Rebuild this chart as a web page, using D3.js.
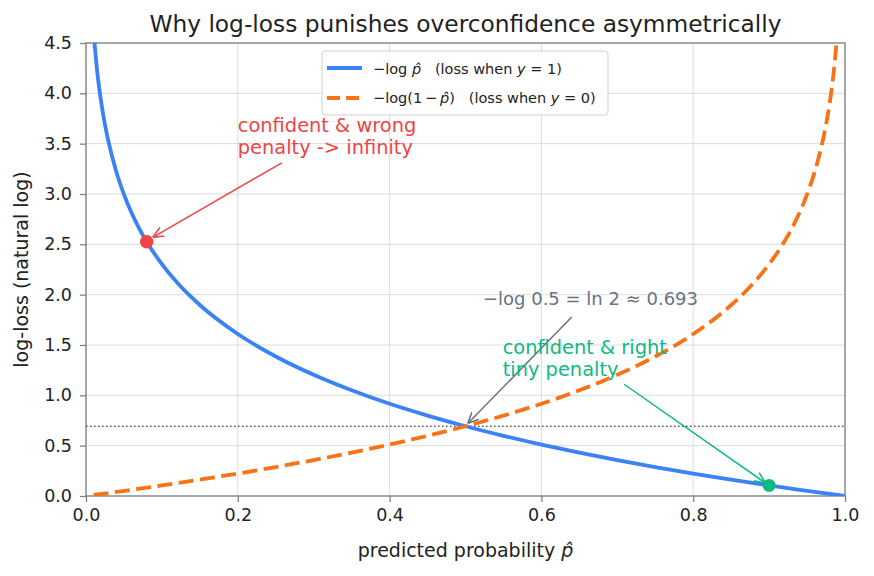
<!DOCTYPE html>
<html>
<head>
<meta charset="utf-8">
<script src="https://cdn.jsdelivr.net/npm/d3@7"></script>
<style>
  body { margin: 0; background: #fff; }
  svg { font-family: "DejaVu Sans", sans-serif; }
</style>
</head>
<body>
<svg id="chart" width="874" height="576"></svg>
<script>
// predicted probability grid and the two losses
var pBlue = [0.01, 0.015, 0.02, 0.025, 0.03, 0.04, 0.05, 0.06, 0.07, 0.08, 0.10, 0.12, 0.15, 0.20, 0.25, 0.30, 0.35, 0.40, 0.45, 0.50,
  0.55, 0.60, 0.65, 0.70, 0.75, 0.80, 0.85, 0.88, 0.90, 0.92, 0.94, 0.96, 0.98, 1.00];
var lossBlue = [4.605, 4.200, 3.912, 3.689, 3.507, 3.219, 2.996, 2.813, 2.659, 2.526, 2.303, 2.120, 1.897, 1.609, 1.386, 1.204, 1.050, 0.916, 0.799, 0.693,
  0.598, 0.511, 0.431, 0.357, 0.288, 0.223, 0.163, 0.128, 0.105, 0.083, 0.062, 0.041, 0.020, 0.000];

var pOrange = [0.01, 0.03, 0.05, 0.08, 0.10, 0.15, 0.20, 0.25, 0.30, 0.35, 0.40, 0.45, 0.50, 0.55, 0.60, 0.65, 0.70, 0.75, 0.80, 0.85,
  0.88, 0.90, 0.92, 0.93, 0.94, 0.95, 0.96, 0.97, 0.975, 0.98, 0.985, 0.99];
var lossOrange = [0.010, 0.030, 0.051, 0.083, 0.105, 0.163, 0.223, 0.288, 0.357, 0.431, 0.511, 0.598, 0.693, 0.799, 0.916, 1.050, 1.204, 1.386, 1.609, 1.897,
  2.120, 2.303, 2.526, 2.659, 2.813, 2.996, 3.219, 3.507, 3.689, 3.912, 4.200, 4.605];

var xTicks = [0, 0.2, 0.4, 0.6, 0.8, 1.0];
var yTicks = [0, 0.5, 1.0, 1.5, 2.0, 2.5, 3.0, 3.5, 4.0, 4.5];

// highlighted points [p, loss]
var wrongPoint = [0.08, 2.526];
var rightPoint = [0.90, 0.105];
var ln2 = 0.693;

var margin = {top: 43, right: 29, bottom: 80, left: 86},
  width = 874,
  height = 576,
  innerWidth = width - margin.left - margin.right,
  innerHeight = height - margin.top - margin.bottom;

var blue = "#3b82f6", orange = "#f97316", red = "#ef4444", green = "#10b981", gray = "#6b7280";

var svg = d3.select("#chart");
var g = svg.append("g").attr("transform", "translate(" + margin.left + "," + margin.top + ")");

var x = d3.scaleLinear().domain([0, 1]).range([0, innerWidth]);
var y = d3.scaleLinear().domain([0, 4.5]).range([innerHeight, 0]);

svg.append("defs").append("clipPath").attr("id", "plot")
  .append("rect").attr("width", innerWidth).attr("height", innerHeight);

// grid
g.append("g").selectAll("line").data(xTicks).enter().append("line")
  .attr("x1", x).attr("x2", x).attr("y1", 0).attr("y2", innerHeight)
  .attr("stroke", "#d5d8dc").attr("stroke-width", 0.9);
g.append("g").selectAll("line").data(yTicks).enter().append("line")
  .attr("y1", y).attr("y2", y).attr("x1", 0).attr("x2", innerWidth)
  .attr("stroke", "#d5d8dc").attr("stroke-width", 0.9);

// axes
var xAxis = g.append("g").attr("transform", "translate(0," + innerHeight + ")")
  .call(d3.axisBottom(x).tickValues(xTicks).tickFormat(d3.format(".1f")).tickSizeOuter(0).tickSize(6).tickPadding(7));
var yAxis = g.append("g")
  .call(d3.axisLeft(y).tickValues(yTicks).tickFormat(d3.format(".1f")).tickSizeOuter(0).tickSize(6).tickPadding(8));
[xAxis, yAxis].forEach(function (a) {
  a.select(".domain").remove();
  a.selectAll(".tick line").attr("stroke", "#808080").attr("stroke-width", 1.3);
  a.selectAll(".tick text").attr("fill", "#222").style("font-size", "17.5px").style("font-family", "DejaVu Sans");
});

// spines
g.append("rect").attr("width", innerWidth).attr("height", innerHeight)
  .attr("fill", "none").attr("stroke", "#808080").attr("stroke-width", 1.3);

var plot = g.append("g").attr("clip-path", "url(#plot)");

// ln 2 reference
plot.append("line")
  .attr("x1", 0).attr("x2", innerWidth).attr("y1", y(ln2)).attr("y2", y(ln2))
  .attr("stroke", "#555").attr("stroke-width", 1.3).attr("stroke-dasharray", "1.5,2.5");

var line = d3.line()
  .x(function (d) { return x(d[0]); })
  .y(function (d) { return y(d[1]); })
  .curve(d3.curveMonotoneX);

plot.append("path")
  .datum(d3.zip(pBlue, lossBlue))
  .attr("d", line).attr("fill", "none").attr("stroke", blue).attr("stroke-width", 3.8);

plot.append("path")
  .datum(d3.zip(pOrange, lossOrange))
  .attr("d", line).attr("fill", "none").attr("stroke", orange).attr("stroke-width", 3.8)
  .attr("stroke-dasharray", "15,6.5");

// annotations
var defs = svg.select("defs");
function marker(id, color) {
  defs.append("marker").attr("id", id).attr("viewBox", "0 0 10 10")
    .attr("refX", 10).attr("refY", 5).attr("markerWidth", 11).attr("markerHeight", 11)
    .attr("markerUnits", "userSpaceOnUse").attr("orient", "auto")
    .append("path").attr("d", "M0,0.5 L10,5 L0,9.5").attr("fill", "none").attr("stroke", color).attr("stroke-width", 1.4);
}
marker("arR", red); marker("arG", green); marker("arK", gray);

function arrow(from, to, color, id) {
  g.append("line")
    .attr("x1", x(from[0])).attr("y1", y(from[1]))
    .attr("x2", x(to[0])).attr("y2", y(to[1]))
    .attr("stroke", color).attr("stroke-width", 1.5).attr("marker-end", "url(#" + id + ")");
}

function label(lines, at, color) {
  var t = g.append("text").attr("x", x(at[0])).attr("y", y(at[1]))
    .attr("fill", color).style("font-size", "19.4px");
  lines.forEach(function (s, i) {
    t.append("tspan").attr("x", x(at[0])).attr("dy", i ? 22 : 0).text(s);
  });
}

arrow([0.258, 3.31], [0.088, 2.57], red, "arR");
label(["confident & wrong", "penalty -> infinity"], [0.2, 3.616], red);

arrow([0.64, 1.778], [0.503, 0.72], gray, "arK");
g.append("text").attr("x", x(0.523)).attr("y", y(1.897))
  .attr("fill", gray).style("font-size", "18px")
  .text("\u2212log 0.5 = ln 2 \u2248 0.693");

arrow([0.709, 1.11], [0.895, 0.13], green, "arG");
label(["confident & right", "tiny penalty"], [0.549, 1.41], green);

g.append("circle").attr("cx", x(wrongPoint[0])).attr("cy", y(wrongPoint[1])).attr("r", 6.8).attr("fill", red);
g.append("circle").attr("cx", x(rightPoint[0])).attr("cy", y(rightPoint[1])).attr("r", 6.5).attr("fill", green);

// legend
var lg = svg.append("g").attr("transform", "translate(322,51)");
lg.append("rect").attr("width", 286).attr("height", 64).attr("rx", 3)
  .attr("fill", "#fff").attr("fill-opacity", 0.85).attr("stroke", "#d0d0d0");
lg.append("line").attr("x1", 5).attr("x2", 40).attr("y1", 17).attr("y2", 17)
  .attr("stroke", blue).attr("stroke-width", 3.8);
lg.append("line").attr("x1", 5).attr("x2", 40).attr("y1", 47).attr("y2", 47)
  .attr("stroke", orange).attr("stroke-width", 3.8).attr("stroke-dasharray", "13,6");
var l1 = lg.append("text").attr("x", 51).attr("y", 23).style("font-size", "14.5px").attr("fill", "#222")
  .attr("xml:space", "preserve");
l1.append("tspan").text("\u2212log ");
l1.append("tspan").style("font-style", "italic").text("p\u0302");
l1.append("tspan").text("   (loss when ");
l1.append("tspan").style("font-style", "italic").text("y");
l1.append("tspan").text(" = 1)");
var l2 = lg.append("text").attr("x", 51).attr("y", 52).style("font-size", "14.5px").attr("fill", "#222")
  .attr("xml:space", "preserve");
l2.append("tspan").text("\u2212log(1\u2009\u2212\u2009");
l2.append("tspan").style("font-style", "italic").text("p\u0302");
l2.append("tspan").text(")   (loss when ");
l2.append("tspan").style("font-style", "italic").text("y");
l2.append("tspan").text(" = 0)");

// titles
svg.append("text").attr("x", margin.left + innerWidth / 2).attr("y", 32)
  .attr("text-anchor", "middle").style("font-size", "23.3px").attr("fill", "#222")
  .text("Why log-loss punishes overconfidence asymmetrically");

var xl = svg.append("text").attr("x", margin.left + innerWidth / 2).attr("y", 557)
  .attr("text-anchor", "middle").style("font-size", "19px").attr("fill", "#222");
xl.append("tspan").text("predicted probability ");
xl.append("tspan").style("font-style", "italic").text("p\u0302");

svg.append("text").attr("transform", "translate(28," + (margin.top + innerHeight / 2) + ") rotate(-90)")
  .attr("text-anchor", "middle").style("font-size", "19px").attr("fill", "#222")
  .text("log-loss (natural log)");
</script>
</body>
</html>
